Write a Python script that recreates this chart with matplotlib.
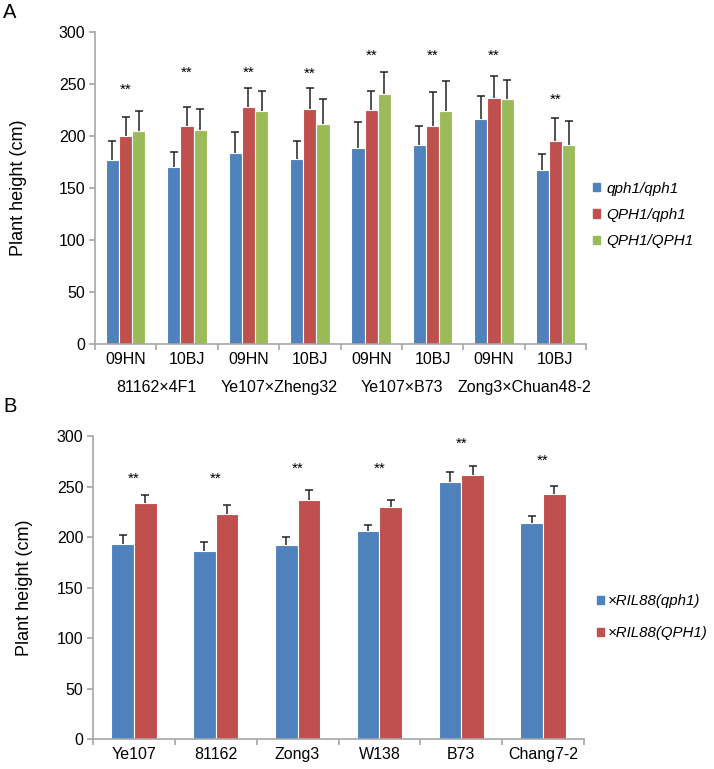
import numpy as np
import matplotlib
matplotlib.use("Agg")
import matplotlib.pyplot as plt
from matplotlib.patches import Patch
from matplotlib.transforms import blended_transform_factory

plt.rcParams['font.family'] = ['Liberation Sans', 'DejaVu Sans']

# ---- panel A data ----
env_labels = ['09HN', '10BJ', '09HN', '10BJ', '09HN', '10BJ', '09HN', '10BJ']
cross_labels = ['81162×4F1', 'Ye107×Zheng32', 'Ye107×B73', 'Zong3×Chuan48-2']
qq_mean = [177, 170, 184, 178, 188, 191, 216, 167]
qq_err = [18, 15, 20, 17, 25, 19, 22, 16]
Qq_mean = [200, 210, 228, 226, 225, 210, 237, 195]
Qq_err = [18, 18, 18, 20, 18, 32, 21, 22]
QQ_mean = [205, 206, 224, 212, 240, 224, 236, 191]
QQ_err = [19, 20, 19, 24, 22, 29, 18, 23]
star_a = [244, 261, 261, 260, 277, 277, 277, 235]
legend_a = ['qph1/qph1', 'QPH1/qph1', 'QPH1/QPH1']

# ---- panel B data ----
lines_b = ['Ye107', '81162', 'Zong3', 'W138', 'B73', 'Chang7-2']
ril_q_mean = [193, 186, 192, 206, 255, 214]
ril_q_err = [9, 9, 8, 6, 10, 7]
ril_Q_mean = [234, 223, 237, 230, 262, 243]
ril_Q_err = [8, 9, 10, 7, 9, 8]
star_b = [258, 258, 268, 268, 293, 276]
legend_b = ['×RIL88(qph1)', '×RIL88(QPH1)']

blue, red, green = '#4F81BD', '#C0504D', '#9BBB59'
gray = '#A6A6A6'


def style_axes(ax, n):
    ax.set_xlim(0, n)
    ax.set_ylim(0, 300)
    ax.set_yticks(range(0, 301, 50))
    for s in ['top', 'right']:
        ax.spines[s].set_visible(False)
    for s in ['left', 'bottom']:
        ax.spines[s].set_color(gray)
        ax.spines[s].set_linewidth(1.2)
    ax.set_xticks(np.arange(n + 1))
    ax.set_xticklabels([])
    ax.set_xticks(np.arange(n) + 0.5, minor=True)
    ax.tick_params(axis='x', which='major', direction='out', length=4, color=gray, width=1.2)
    ax.tick_params(axis='x', which='minor', length=0, labelsize=11.5, pad=6)
    ax.tick_params(axis='y', direction='out', length=4, color=gray, width=1.2,
                   labelsize=11.5, pad=3)
    ax.set_ylabel('Plant height (cm)', fontsize=13)


def draw_bars(ax, means, errs, colors, width):
    n = len(means[0])
    k = len(means)
    x = np.arange(n) + 0.5
    for i, (m, e, c) in enumerate(zip(means, errs, colors)):
        xi = x + (i - (k - 1) / 2) * width
        ax.bar(xi, m, width, color=c, edgecolor='white', linewidth=0.8, zorder=2)
        eb = ax.errorbar(xi, m, yerr=[np.zeros(n), e], fmt='none', ecolor='#222222',
                         elinewidth=1.1, capsize=3.2, capthick=1.1, zorder=3)
        eb[1][0].set_visible(False)  # hide lower cap sitting on the bar top


fig = plt.figure(figsize=(7.14, 7.69), dpi=100)

# panel A
axA = fig.add_axes([95 / 714, 1 - 344 / 769, 491 / 714, 312 / 769])
style_axes(axA, len(env_labels))
draw_bars(axA, [qq_mean, Qq_mean, QQ_mean], [qq_err, Qq_err, QQ_err], [blue, red, green], 0.215)
axA.set_xticklabels(env_labels, minor=True)
axA.yaxis.set_label_coords(-0.138, 0.5)
for i, y in enumerate(star_a):
    axA.text(i + 0.5, y, '**', ha='center', va='center', fontsize=11)
trA = blended_transform_factory(axA.transData, axA.transAxes)
for j, lab in enumerate(cross_labels):
    axA.text(2 * j + 1, -0.138, lab, transform=trA, ha='center', va='center', fontsize=11.5)
fig.legend(handles=[Patch(color=c) for c in [blue, red, green]], labels=legend_a,
           loc='center left', bbox_to_anchor=(593 / 714, 1 - 215 / 769), frameon=False,
           borderpad=0, borderaxespad=0,
           handlelength=0.45, handleheight=0.45, handletextpad=0.4, labelspacing=0.8,
           prop={'style': 'italic', 'size': 11})
fig.text(3 / 714, 1 - 12 / 769, 'A', fontsize=14.5, va='center', ha='left')

# panel B
axB = fig.add_axes([93 / 714, 1 - 739 / 769, 491 / 714, 302.6 / 769])
style_axes(axB, len(lines_b))
draw_bars(axB, [ril_q_mean, ril_Q_mean], [ril_q_err, ril_Q_err], [blue, red], 0.277)
axB.set_xticklabels(lines_b, minor=True)
axB.yaxis.set_label_coords(-0.122, 0.5)
for i, y in enumerate(star_b):
    axB.text(i + 0.5, y, '**', ha='center', va='center', fontsize=11)
fig.legend(handles=[Patch(color=c) for c in [blue, red]], labels=legend_b,
           loc='center left', bbox_to_anchor=(597 / 714, 1 - 617 / 769), frameon=False,
           borderpad=0, borderaxespad=0,
           handlelength=0.45, handleheight=0.45, handletextpad=0.25, labelspacing=1.2,
           prop={'style': 'italic', 'size': 10.8})
fig.text(3 / 714, 1 - 406 / 769, 'B', fontsize=14.5, va='center', ha='left')

fig.savefig('out.png', dpi=100)
